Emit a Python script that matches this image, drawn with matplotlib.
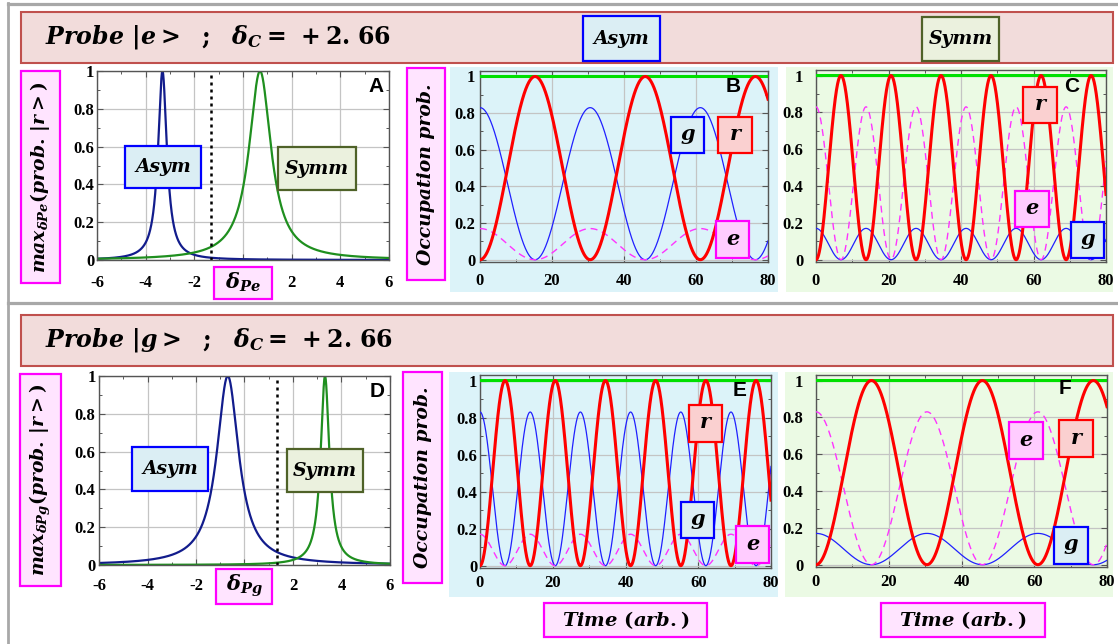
import numpy as np
import matplotlib
matplotlib.use("Agg")
import matplotlib.pyplot as plt
from matplotlib.patches import Rectangle
from matplotlib.lines import Line2D
from matplotlib.ticker import MultipleLocator
from matplotlib.font_manager import FontProperties

plt.rcParams['mathtext.fontset'] = 'custom'
plt.rcParams['mathtext.it'] = 'DejaVu Serif:italic:bold'
plt.rcParams['mathtext.rm'] = 'DejaVu Serif:bold'
plt.rcParams['mathtext.bf'] = 'DejaVu Serif:bold'

# ---- spectra: peak centres / half widths of max prob(|r>) vs probe detuning ----
spec_labels = ['Asym', 'Symm']
centre_probe_e = [-3.31, 0.70]
width_probe_e = [0.22, 0.55]
centre_probe_g = [-0.69, 3.32]
width_probe_g = [0.55, 0.22]
coupling_marker = [-1.33, 1.33]      # dotted lines (probe e, probe g)
spec_xticks = [-6, -4, -2, 0, 2, 4, 6]
spec_xlabels = ['-6', '-4', '-2', '', '2', '4', '6']   # 0 sits under the axis-name box

# ---- time evolution: oscillation period, initial g and e populations ----
panels = ['B', 'C', 'E', 'F']
period = [30.6, 13.8, 13.8, 30.5]
g_start = [0.83, 0.17, 0.83, 0.17]
e_start = [0.17, 0.83, 0.17, 0.83]
time_xticks = [0, 20, 40, 60, 80]
prob_yticks = [0, 0.2, 0.4, 0.6, 0.8, 1]
prob_ylabels = ['0', '0.2', '0.4', '0.6', '0.8', '1']

W, H = 1118, 644
fig = plt.figure(figsize=(W / 100, H / 100), dpi=100)
fig.patch.set_facecolor('white')


def fx(x):
    return x / W


def fy(y):
    return 1 - y / H


def rect(x0, y0, x1, y1, fc, ec='none', lw=0, z=-1):
    fig.patches.append(Rectangle((fx(x0), fy(y1)), fx(x1) - fx(x0), fy(y0) - fy(y1),
                                 transform=fig.transFigure, fc=fc, ec=ec, lw=lw, zorder=z))


def label_box(x0, y0, x1, y1, fc, ec, text, size, rot=0, lw=1.6, family='DejaVu Serif',
              style='italic', weight='bold', dy=0):
    rect(x0, y0, x1, y1, fc, ec, lw, z=5)
    fig.text(fx((x0 + x1) / 2), fy((y0 + y1) / 2 + dy), text, ha='center', va='center',
             rotation=rot, fontsize=size, family=family, style=style, weight=weight,
             color='black', zorder=6)


def fline(x0, y0, x1, y1, color, lw):
    fig.lines.append(Line2D([fx(x0), fx(x1)], [fy(y0), fy(y1)], transform=fig.transFigure,
                            color=color, lw=lw, zorder=-2))


# outer gray frame
gray = '#a8a8a8'
fline(8, 3.5, W, 3.5, gray, 2.3)
fline(8, 3, 8, H, gray, 2.0)
fline(8, 303, W, 303, gray, 2.3)

# coloured backdrops behind the time-evolution panels
cyan = '#dcf3f9'
lgreen = '#ebfae4'
rect(450, 67, 778, 292, cyan)
rect(786, 67, 1113, 292, lgreen)
rect(449, 372, 778, 597, cyan)
rect(785, 372, 1113, 597, lgreen)

# header bands
hdr_fc, hdr_ec = '#f2dcdb', '#c0504d'
rect(20.5, 12, 1113, 63, hdr_fc, hdr_ec, 1.5, z=1)
rect(20.5, 315, 1113, 366, hdr_fc, hdr_ec, 1.5, z=1)
fig.text(fx(45), fy(37), r'$Probe\ |e>\ \ ;\ \ \delta_C=\,+2.\!\;66$', fontsize=17,
         ha='left', va='center', zorder=6)
fig.text(fx(45), fy(340), r'$Probe\ |g>\ \ ;\ \ \delta_C=\,+2.\!\;66$', fontsize=17,
         ha='left', va='center', zorder=6)

asym_fc, asym_ec = '#dbeef4', '#0000ff'
symm_fc, symm_ec = '#ebf1de', '#4f6228'
label_box(583, 16, 660, 61, asym_fc, asym_ec, 'Asym', 13.5)
label_box(922, 17, 999, 61, symm_fc, symm_ec, 'Symm', 13.5)


def ax_at(x0, y0, x1, y1):
    return fig.add_axes([fx(x0), fy(y1), fx(x1) - fx(x0), fy(y0) - fy(y1)])


tick_font = FontProperties(family='Liberation Serif', weight='bold', size=12)


def style_axes(ax, face, xticks, xlabels, xpad, ypad, xminor, yminor):
    ax.set_facecolor(face)
    for s in ax.spines.values():
        s.set_color('#555555')
        s.set_linewidth(1.0)
    ax.set_xticks(xticks)
    ax.set_xticklabels(xlabels, fontproperties=tick_font)
    ax.set_yticks(prob_yticks)
    ax.set_yticklabels(prob_ylabels, fontproperties=tick_font)
    ax.xaxis.set_minor_locator(MultipleLocator(xminor))
    ax.yaxis.set_minor_locator(MultipleLocator(yminor))
    ax.tick_params(which='both', direction='in', top=True, right=True, color='#555555')
    ax.tick_params(which='major', length=4, width=0.8)
    ax.tick_params(which='minor', length=2.5, width=0.7)
    ax.tick_params(axis='x', pad=xpad)
    ax.tick_params(axis='y', pad=ypad)
    ax.grid(True, which='major', color='#c4c4c4', lw=0.9)
    ax.set_axisbelow(True)


detuning = np.linspace(-6, 6, 2401)
spec_colors = ['#121c8c', '#1f8f1f']


def spectrum_panel(box, centres, widths, marker, letter, xpad, ypad, boxes):
    ax = ax_at(*box)
    for c, w, col in zip(centres, widths, spec_colors):
        ax.plot(detuning, 1 / (1 + ((detuning - c) / w) ** 2), color=col, lw=1.6)
    ax.axvline(marker, color='black', ls=(0, (1.2, 1.6)), lw=1.8)
    ax.set_xlim(-6, 6)
    ax.set_ylim(0, 1)
    style_axes(ax, 'white', spec_xticks, spec_xlabels, xpad, ypad, 1, 0.1)
    ax.text(0.955, 0.92, letter, transform=ax.transAxes, ha='center', va='center',
            family='Liberation Sans', weight='bold', size=15)
    (a, s) = boxes
    label_box(*a, asym_fc, asym_ec, spec_labels[0], 13.5)
    label_box(*s, symm_fc, symm_ec, spec_labels[1], 13.5)
    return ax


spectrum_panel((97, 71, 389, 260), centre_probe_e, width_probe_e, coupling_marker[0], 'A',
               11, 2, ((125, 146, 201, 188), (278, 147, 356, 190)))
spectrum_panel((99, 376, 390, 565), centre_probe_g, width_probe_g, coupling_marker[1], 'D',
               9.5, 2.5, ((132, 447, 208, 491), (287, 449, 363, 492)))

mag_fc, mag_ec = '#ffe4ff', '#ff00ff'
label_box(21, 71, 60, 283, mag_fc, mag_ec, r'$max_{\delta Pe}(prob.\,|r>)$', 13.5, rot=90)
label_box(20, 374, 61, 586, mag_fc, mag_ec, r'$max_{\delta Pg}(prob.\,|r>)$', 13.5, rot=90)
label_box(214, 267, 272, 299, mag_fc, mag_ec, r'$\delta_{Pe}$', 15, dy=-1)
label_box(216, 569, 272, 604, mag_fc, mag_ec, r'$\delta_{Pg}$', 15, dy=-1)
label_box(407, 68, 445, 280, mag_fc, mag_ec, 'Occupation prob.', 13.5, rot=90)
label_box(403, 372, 442, 583, mag_fc, mag_ec, 'Occupation prob.', 13.5, rot=90)
label_box(544, 603, 707, 637, mag_fc, mag_ec, r'$Time\ (arb.)$', 14)
label_box(881, 603, 1045, 637, mag_fc, mag_ec, r'$Time\ (arb.)$', 14)

time = np.linspace(0, 80, 1601)
g_fc, g_ec = '#dbeef4', '#0000ff'
r_fc, r_ec = '#fad0d0', '#ff0000'
e_fc, e_ec = '#ffccff', '#ff00ff'

time_boxes = {
    'B': dict(ax=(480, 71, 768, 262), face=cyan, xpad=8, ypad=3.5,
              g=(671, 117, 704, 153), r=(718, 117, 752, 153), e=(716, 221, 749, 258),
              letter=(733, 86)),
    'C': dict(ax=(816, 70, 1106, 262), face=lgreen, xpad=8, ypad=9,
              g=(1071, 222, 1104, 258), r=(1023, 87, 1057, 123), e=(1015, 191, 1049, 227),
              letter=(1072, 87)),
    'E': dict(ax=(480, 375, 771, 568), face=cyan, xpad=5, ypad=2,
              g=(681, 502, 714, 538), r=(689, 405, 722, 442), e=(736, 526, 769, 563),
              letter=(740, 390)),
    'F': dict(ax=(816, 375, 1107, 567), face=lgreen, xpad=5, ypad=9,
              g=(1054, 527, 1088, 564), r=(1059, 420, 1093, 457), e=(1009, 422, 1043, 459),
              letter=(1065, 389)),
}

for name, T, g0, e0 in zip(panels, period, g_start, e_start):
    spec = time_boxes[name]
    ax = ax_at(*spec['ax'])
    c2 = np.cos(np.pi * time / T) ** 2
    pop_r = 1 - c2
    pop_g = g0 * c2
    pop_e = e0 * c2
    total = pop_r + pop_g + pop_e
    ax.plot(time, total, color='#00e000', lw=2.2, zorder=3)
    ax.plot(time, pop_g, color='#2020ff', lw=0.9, zorder=3)
    ax.plot(time, pop_e, color='#ff33ff', lw=1.0, ls=(0, (5, 3.5)), zorder=3)
    ax.plot(time, pop_r, color='#ff0000', lw=2.2, zorder=4)
    ax.set_xlim(0, 80)
    ax.set_ylim(-0.0125, 1.03)
    style_axes(ax, spec['face'], time_xticks, [str(v) for v in time_xticks],
               spec['xpad'], spec['ypad'], 10, 0.1)
    lx, ly = spec['letter']
    fig.text(fx(lx), fy(ly), name, ha='center', va='center', family='Liberation Sans',
             weight='bold', size=15, zorder=6)
    label_box(*spec['g'], g_fc, g_ec, 'g', 15, dy=-1)
    label_box(*spec['r'], r_fc, r_ec, 'r', 15, dy=-1)
    label_box(*spec['e'], e_fc, e_ec, 'e', 15, dy=-1)

fig.savefig('out.png', dpi=100, facecolor='white')
